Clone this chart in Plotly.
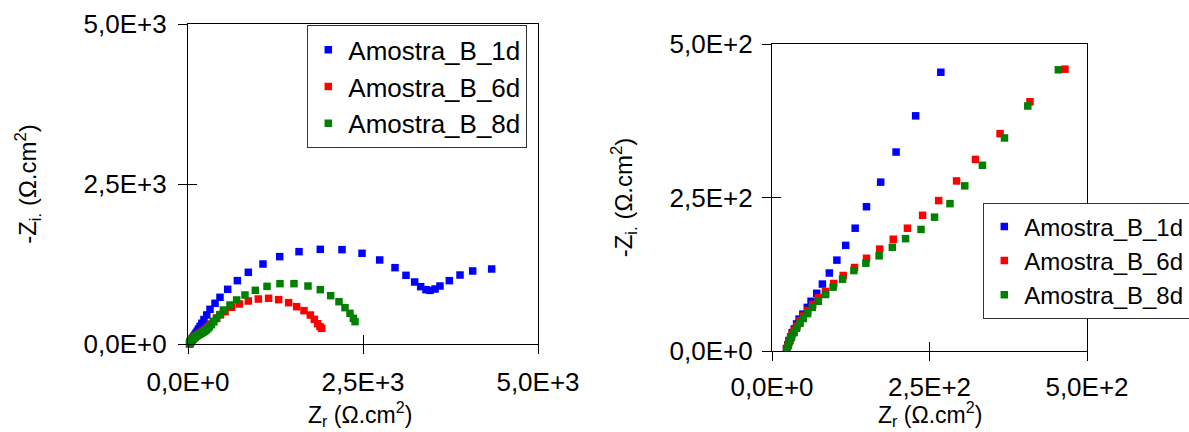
import plotly.graph_objects as go

# ---- data ----
series_names = ["Amostra_B_1d", "Amostra_B_6d", "Amostra_B_8d"]
series_colors = ["#0000FF", "#FF0000", "#008000"]

blue_zr = [23, 25, 27, 29.6, 32, 35.5, 39, 43, 49, 56, 62, 71, 80, 91, 103, 117, 132, 150,
           172.5, 197, 228, 268, 314, 386, 457, 567, 705, 862, 1071, 1310, 1586, 1890, 2200,
           2486, 2738, 2957, 3114, 3238, 3324, 3400, 3457, 3529, 3600, 3733, 3886, 4067, 4338]
blue_zi = [4, 10, 17, 23, 30, 36, 44, 52, 60, 71, 81, 94, 109, 127, 148, 172, 200, 235,
           275, 324, 383, 454, 542, 636, 729, 854, 990, 1120, 1250, 1365, 1443, 1479, 1474,
           1417, 1313, 1193, 1073, 969, 896, 849, 838, 859, 906, 990, 1078, 1141, 1172]

red_zr = [23, 25, 27, 29.6, 32, 35.4, 39.7, 44.4, 49.7, 56.6, 64.6, 73.5, 85, 98, 113, 131,
          150, 171, 192.5, 215, 239, 264.5, 293, 323, 362, 409.5, 465, 529, 624, 733, 862,
          1005, 1152, 1295, 1438, 1552, 1657, 1748, 1805, 1852, 1886, 1910]
red_zi = [2, 8, 14, 21, 28, 34, 41, 49, 57, 66, 76, 87, 97, 110, 123, 136,
          151, 166, 182, 200, 221, 245, 277, 312, 354, 406, 459, 505, 573, 625, 672,
          703, 714, 693, 646, 583, 521, 453, 385, 317, 271, 245]

green_zr = [24, 26, 28.6, 31, 35, 39, 44.4, 49.7, 56.6, 64, 73.5, 85, 97, 112, 130, 149,
            170, 191, 212, 236.5, 258, 282.5, 306, 334, 369, 406, 454.5, 505, 600, 695,
            814, 962, 1129, 1314, 1514, 1714, 1890, 2038, 2157, 2243, 2314, 2362, 2386]
green_zi = [4, 10, 17, 23, 30, 37, 45, 53, 61, 71, 81, 92, 104, 117, 131, 143,
            155, 169, 183, 198, 218, 240, 269, 302.5, 347, 399, 458, 531, 609, 688,
            766, 839, 901, 943, 943, 906, 849, 755, 661, 568, 479, 401, 349]

left_tickvals = [0, 2500, 5000]
left_ticktext = ["0,0E+0", "2,5E+3", "5,0E+3"]
right_tickvals = [0, 250, 500]
right_ticktext = ["0,0E+0", "2,5E+2", "5,0E+2"]

x_title = "Z<sub>r</sub> (Ω.cm<sup>2</sup>)"
y_title = "-Z<sub>i.</sub> (Ω.cm<sup>2</sup>)"

# ---- figure ----
FONT = "Liberation Sans, Arial, sans-serif"
W, H = 1189, 432

series = [(blue_zr, blue_zi), (red_zr, red_zi), (green_zr, green_zi)]

fig = go.Figure()
for (zr, zi), name, col in zip(series, series_names, series_colors):
    fig.add_trace(go.Scatter(x=zr, y=zi, mode="markers", name=name,
                             marker=dict(symbol="square", size=7.5, color=col, line=dict(width=0)),
                             xaxis="x", yaxis="y", legend="legend", cliponaxis=False))
for (zr, zi), name, col in zip(series, series_names, series_colors):
    fig.add_trace(go.Scatter(x=zr, y=zi, mode="markers", name=name,
                             marker=dict(symbol="square", size=7.5, color=col, line=dict(width=0)),
                             xaxis="x2", yaxis="y2", legend="legend2", cliponaxis=True))
# empty helper traces so the overlay (inside-tick) axes get drawn
fig.add_trace(go.Scatter(x=[], y=[], xaxis="x3", yaxis="y3", showlegend=False, hoverinfo="skip"))
fig.add_trace(go.Scatter(x=[], y=[], xaxis="x4", yaxis="y4", showlegend=False, hoverinfo="skip"))

tick_font = dict(family=FONT, size=26, color="black")
title_font = dict(family=FONT, size=24, color="black")
xtitle_font = dict(family=FONT, size=23, color="black")


def main_axis(domain, rng, tv, tt, anchor, title, standoff, lab_standoff):
    ax = dict(domain=domain, range=rng, tickmode="array", tickvals=tv, ticktext=tt,
              showline=True, linecolor="black", linewidth=1.3, mirror=True,
              ticks="outside", ticklen=9, tickwidth=1.3, tickcolor="black",
              showgrid=False, zeroline=False, anchor=anchor, tickfont=tick_font,
              ticklabelstandoff=lab_standoff, automargin=False)
    if title:
        ax["title"] = dict(text=title, font=title_font, standoff=standoff)
    return ax


def inside_axis(over, rng, tv, anchor):
    return dict(overlaying=over, range=rng, tickmode="array", tickvals=tv, ticktext=[""] * len(tv),
                showticklabels=False, showline=False, showgrid=False, zeroline=False,
                ticks="inside", ticklen=9, tickwidth=1.3, tickcolor="black", anchor=anchor,
                automargin=False)


xl = [188 / W, 538 / W]
yl = [1 - 344 / H, 1 - 24 / H]
xr = [772 / W, 1087 / W]
yr = [1 - 351 / H, 1 - 44 / H]

# x-axis titles as annotations under each subplot (plotly keeps axis titles inside margins)
x_title_annotations = [
    dict(text=x_title, xref="x domain", yref="paper", x=0.49, y=0, xanchor="center",
         yanchor="bottom", yshift=0, showarrow=False, font=xtitle_font),
    dict(text=x_title, xref="x2 domain", yref="paper", x=0.5, y=0, xanchor="center",
         yanchor="bottom", yshift=0, showarrow=False, font=xtitle_font),
]

fig.update_layout(
    width=W, height=H,
    margin=dict(l=0, r=0, t=0, b=0, autoexpand=False),
    paper_bgcolor="white", plot_bgcolor="white",
    font=dict(family=FONT, color="black"),
    xaxis=main_axis(xl, [0, 5000], left_tickvals, left_ticktext, "y", None, 0, 6),
    yaxis=main_axis(yl, [0, 5000], left_tickvals, left_ticktext, "x", y_title, 40, 6),
    xaxis2=main_axis(xr, [0, 500], right_tickvals, right_ticktext, "y2", None, 0, 4),
    yaxis2=main_axis(yr, [0, 500], right_tickvals, right_ticktext, "x2", y_title, 30, 4),
    xaxis3=inside_axis("x", [0, 5000], left_tickvals, "y"),
    yaxis3=inside_axis("y", [0, 5000], left_tickvals, "x"),
    xaxis4=inside_axis("x2", [0, 500], right_tickvals, "y2"),
    yaxis4=inside_axis("y2", [0, 500], right_tickvals, "x2"),
    annotations=x_title_annotations,
    legend=dict(x=307 / W, y=1 - 25 / H, xanchor="left", yanchor="top",
                bordercolor="#333333", borderwidth=1.3, bgcolor="white",
                font=dict(family=FONT, size=26, color="black")),
    legend2=dict(x=983 / W, y=1 - 203 / H, xanchor="left", yanchor="top",
                 bordercolor="#333333", borderwidth=1.3, bgcolor="white",
                 font=dict(family=FONT, size=24, color="black")),
    showlegend=True,
)

fig.write_html("out.html", config={"displayModeBar": False},
               post_script="document.body.style.margin='0';document.body.style.overflow='hidden';")
